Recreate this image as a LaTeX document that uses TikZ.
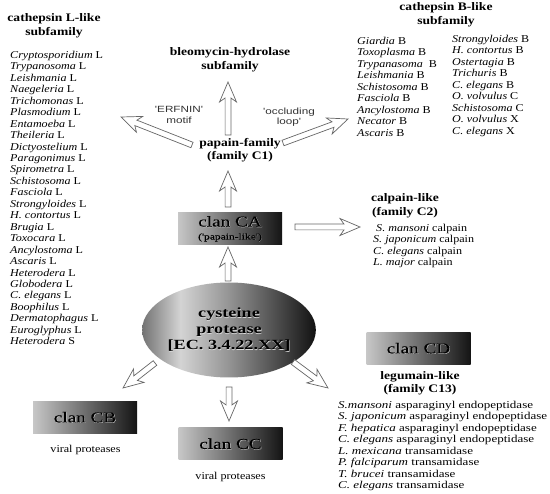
\documentclass[tikz,border=0pt]{standalone}
\usepackage{fontspec}
\setmainfont{Liberation Serif}
\newfontfamily\listfont[FakeStretch=1.15]{Liberation Serif}
\newfontfamily\listwidefont[FakeStretch=1.24]{Liberation Serif}
\newfontfamily\headfont{Liberation Serif}
\newfontfamily\clanfont[FakeStretch=1.28,FakeBold=0.6]{Liberation Serif}
\newfontfamily\ellfont{Liberation Serif}
\newfontfamily\motiffont{Liberation Sans}
\usetikzlibrary{calc,shapes.geometric}
\newcommand{\hw}[1]{\scalebox{1.18}[1]{#1}}
\newcommand{\mw}[1]{\scalebox{1.3}[1]{#1}}
\newcommand{\ew}[1]{\scalebox{1.3}[1]{#1}}
\newcommand{\emb}[1]{\leavevmode\rlap{\kern0.45pt\raisebox{-0.45pt}{\textcolor{white!85!black}{#1}}}#1}
\newcommand{\embs}[1]{\leavevmode\rlap{\kern0.3pt\raisebox{-0.3pt}{\textcolor{white!60!black}{#1}}}#1}
\pgfdeclarehorizontalshading{ellshade}{100bp}{color(0bp)=(black!55); color(25bp)=(black!55); color(36bp)=(black!17); color(50bp)=(black!42); color(75bp)=(black!93); color(100bp)=(black!93)}
\tikzset{
  lst/.style={anchor=north west, inner sep=0pt, align=left, font=\listfont\fontsize{10.5}{11.45}\selectfont},
  lstw/.style={lst, font=\listwidefont\fontsize{10.5}{11.5}\selectfont},
  head/.style={inner sep=0pt, align=center, font=\headfont\bfseries\fontsize{11.5}{13.5}\selectfont},
  clanbox/.style={minimum width=104pt, minimum height=32pt, inner sep=0pt, left color=black!22, right color=black!92, align=center, font=\clanfont\fontsize{15}{15}\selectfont, text=black},
  note/.style={inner sep=0pt, align=center, font=\motiffont\fontsize{9}{10.5}\selectfont, text=black!80},
  viral/.style={inner sep=0pt, font=\listfont\fontsize{10.5}{12}\selectfont},
  harr/.style={draw=black!60, fill=white, line width=0.7pt, line join=miter}
}
\newcommand{\hollowarrow}[2]{%
  \path coordinate (hj) at ($(#2)!16pt!(#1)$) coordinate (hb) at ($(#2)!20pt!(#1)$);
  \draw[harr] ($(#1)!2.9pt!90:(#2)$) -- ($(hj)!2.9pt!-90:(#1)$) -- ($(hb)!8.5pt!-90:(#1)$) -- (#2)
     -- ($(hb)!8.5pt!90:(#1)$) -- ($(hj)!2.9pt!90:(#1)$) -- ($(#1)!2.9pt!-90:(#2)$) -- cycle;}
\begin{document}
\begin{tikzpicture}[x=1pt,y=-1pt]
\useasboundingbox (0,0) rectangle (550,494);
\fill[white] (0,0) rectangle (550,494);

% headings
\node[head] (catL) at (54,26) {\hw{cathepsin L-like}\\\hw{subfamily}};
\node[head] (bleo) at (230,60) {\hw{bleomycin-hydrolase}\\\hw{subfamily}};
\node[head] (pap) at (240,150) {\hw{papain-family}\\\hw{(family C1)}};
\node[head] (catB) at (446,15) {\hw{cathepsin B-like}\\\hw{subfamily}};
\node[head] (calp) at (405,206) {\hw{calpain-like}\\\hw{(family C2)}};
\node[head] (legu) at (420,383.5) {\hw{legumain-like}\\\hw{(family C13)}};
\node[note] (erf) at (179,115) {\mw{'ERFNIN'}\\\mw{motif}};
\node[note] (occ) at (289,117) {\mw{'occluding}\\\mw{loop'}};

% lists
\node[lst] (listL) at (10,51) {\textit{Cryptosporidium} L\\ \textit{Trypanosoma} L\\ \textit{Leishmania} L\\ \textit{Naegeleria} L\\ \textit{Trichomonas} L\\ \textit{Plasmodium} L\\ \textit{Entamoeba} L\\ \textit{Theileria} L\\ \textit{Dictyostelium} L\\ \textit{Paragonimus} L\\ \textit{Spirometra} L\\ \textit{Schistosoma} L\\ \textit{Fasciola} L\\ \textit{Strongyloides} L\\ \textit{H. contortus} L\\ \textit{Brugia} L\\ \textit{Toxocara} L\\ \textit{Ancylostoma} L\\ \textit{Ascaris} L\\ \textit{Heterodera} L\\ \textit{Globodera} L\\ \textit{C. elegans} L\\ \textit{Boophilus} L\\ \textit{Dermatophagus} L\\ \textit{Euroglyphus} L\\ \textit{Heterodera} S};
\node[lst] (listB1) at (357,37) {\textit{Giardia} B\\ \textit{Toxoplasma} B\\ \textit{Trypanasoma}\ \ B\\ \textit{Leishmania} B\\ \textit{Schistosoma} B\\ \textit{Fasciola} B\\ \textit{Ancylostoma} B\\ \textit{Necator} B\\ \textit{Ascaris} B};
\node[lst] (listB2) at (452,35) {\textit{Strongyloides} B\\ \textit{H. contortus} B\\ \textit{Ostertagia} B\\ \textit{Trichuris} B\\ \textit{C. elegans} B\\ \textit{O. volvulus} C\\ \textit{Schistosoma} C\\ \textit{O. volvulus} X\\ \textit{C. elegans} X};
\node[lst] (listC) at (373,224) {\ \textit{S. mansoni} calpain\\ \textit{S. japonicum} calpain\\ \textit{C. elegans} calpain\\ \textit{L. major} calpain};
\node[lstw] (listD) at (338,401) {\textit{S.mansoni} asparaginyl endopeptidase\\ \textit{S. japonicum} asparaginyl endopeptidase\\ \textit{F. hepatica} asparaginyl endopeptidase\\ \textit{C. elegans} asparaginyl endopeptidase\\ \textit{L. mexicana} transamidase\\ \textit{P. falciparum} transamidase\\ \textit{T. brucei} transamidase\\ \textit{C. elegans} transamidase};

% central ellipse and clans
\node[ellipse, minimum width=146pt, minimum height=95pt, inner sep=0pt, shade, shading=ellshade, align=center, font=\ellfont\bfseries\fontsize{14}{16}\selectfont, text=black] (ell) at (229,330) {\emb{\ew{cysteine}}\\\emb{\ew{protease}}\\\emb{\ew{[EC. 3.4.22.XX]}}};
\node[clanbox] (CA) at (230,229) {\emb{clan CA}\\[-2pt]{\fontsize{9}{9}\selectfont\embs{('papain-like')}}};
\node[clanbox] (CB) at (85,417.5) {\emb{clan CB}};
\node[clanbox] (CC) at (230.5,444) {\emb{clan CC}};
\node[clanbox] (CD) at (418.5,348.5) {\emb{clan CD}};
\node[viral] (vCB) at (85.5,450) {viral proteases};
\node[viral] (vCC) at (230.5,477) {viral proteases};

% arrow end points
\coordinate (a1s) at (228,135); \coordinate (a1e) at (228,82);
\coordinate (a2s) at (192,145); \coordinate (a2e) at (121,117);
\coordinate (a3s) at (283,143); \coordinate (a3e) at (348,119);
\coordinate (a4s) at (228,207); \coordinate (a4e) at (228,171);
\coordinate (a5s) at (228,281); \coordinate (a5e) at (228,247);
\coordinate (a6s) at (295,227); \coordinate (a6e) at (360,227);
\coordinate (a7s) at (155,363); \coordinate (a7e) at (123,388);
\coordinate (a8s) at (229,387); \coordinate (a8e) at (229,421);
\coordinate (a9s) at (293,362); \coordinate (a9e) at (328,388);

\hollowarrow{a1s}{a1e}
\hollowarrow{a2s}{a2e}
\hollowarrow{a3s}{a3e}
\hollowarrow{a4s}{a4e}
\hollowarrow{a5s}{a5e}
\hollowarrow{a6s}{a6e}
\hollowarrow{a7s}{a7e}
\hollowarrow{a8s}{a8e}
\hollowarrow{a9s}{a9e}
\end{tikzpicture}
\end{document}
